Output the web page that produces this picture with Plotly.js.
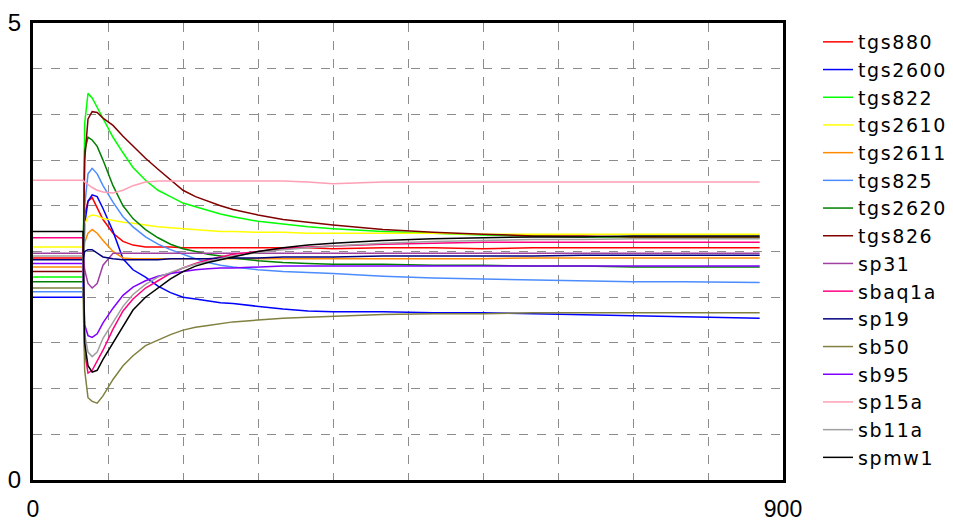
<!DOCTYPE html>
<html>
<head>
<meta charset="utf-8">
<script src="https://cdn.plot.ly/plotly-3.0.1.min.js"></script>
<style>
  html, body { margin: 0; padding: 0; background: #fff; }
  #chart { width: 953px; height: 521px; }
  .legendtext { letter-spacing: 1.6px; }
</style>
</head>
<body>
<div id="chart"></div>
<script>
// Sensor responses (volts) over time (s); gas injected at ~62 s.
const seconds = [0, 60, 62, 66, 71, 77, 84, 96, 108, 120, 135, 150,
                 165, 180, 195, 210, 225, 240, 270, 300, 330, 360,
                 420, 480, 540, 600, 660, 720, 780, 840, 872];

const tgs880  = [2.43, 2.43, 2.90, 3.05, 3.09, 2.98, 2.85, 2.70, 2.61, 2.57, 2.55, 2.55,
                 2.55, 2.54, 2.54, 2.54, 2.54, 2.54, 2.54, 2.54, 2.54, 2.53,
                 2.54, 2.54, 2.53, 2.54, 2.54, 2.54, 2.54, 2.54, 2.54];
const tgs2600 = [2.00, 2.00, 2.80, 3.05, 3.12, 3.10, 2.97, 2.72, 2.42, 2.30, 2.22, 2.12,
                 2.05, 2.00, 1.98, 1.96, 1.94, 1.93, 1.90, 1.87, 1.85, 1.84,
                 1.84, 1.83, 1.83, 1.82, 1.81, 1.80, 1.79, 1.78, 1.77];
const tgs822  = [2.22, 2.22, 3.90, 4.23, 4.18, 4.08, 3.95, 3.75, 3.58, 3.42, 3.28, 3.17,
                 3.10, 3.03, 2.99, 2.95, 2.91, 2.88, 2.83, 2.80, 2.77, 2.75,
                 2.72, 2.70, 2.68, 2.67, 2.66, 2.66, 2.65, 2.65, 2.65];
const tgs2610 = [2.55, 2.55, 2.80, 2.88, 2.90, 2.89, 2.86, 2.84, 2.82, 2.81, 2.79, 2.77,
                 2.76, 2.75, 2.74, 2.73, 2.72, 2.72, 2.71, 2.71, 2.70, 2.70,
                 2.70, 2.70, 2.69, 2.69, 2.69, 2.69, 2.69, 2.69, 2.69];
const tgs2611 = [2.33, 2.33, 2.60, 2.70, 2.74, 2.70, 2.62, 2.50, 2.43, 2.42, 2.42, 2.42,
                 2.42, 2.42, 2.42, 2.42, 2.42, 2.42, 2.42, 2.42, 2.42, 2.42,
                 2.42, 2.42, 2.42, 2.43, 2.43, 2.43, 2.43, 2.43, 2.43];
const tgs825  = [2.06, 2.06, 3.00, 3.35, 3.41, 3.35, 3.22, 3.04, 2.88, 2.77, 2.66, 2.58,
                 2.52, 2.47, 2.42, 2.38, 2.35, 2.33, 2.30, 2.28, 2.27, 2.26,
                 2.23, 2.21, 2.20, 2.19, 2.18, 2.17, 2.17, 2.16, 2.16];
const tgs2620 = [2.17, 2.17, 3.60, 3.75, 3.72, 3.65, 3.50, 3.22, 3.00, 2.86, 2.74, 2.65,
                 2.58, 2.53, 2.50, 2.47, 2.45, 2.43, 2.40, 2.38, 2.37, 2.36,
                 2.36, 2.35, 2.35, 2.34, 2.34, 2.33, 2.33, 2.33, 2.33];
const tgs826  = [2.28, 2.28, 3.50, 3.95, 4.03, 4.02, 3.96, 3.88, 3.76, 3.65, 3.52, 3.40,
                 3.28, 3.17, 3.10, 3.05, 3.00, 2.96, 2.90, 2.85, 2.82, 2.79,
                 2.74, 2.71, 2.69, 2.67, 2.67, 2.66, 2.66, 2.66, 2.66];
const sp31    = [2.48, 2.48, 2.30, 2.15, 2.10, 2.15, 2.35, 2.48, 2.48, 2.48, 2.48, 2.48,
                 2.48, 2.48, 2.48, 2.48, 2.48, 2.48, 2.48, 2.48, 2.48, 2.48,
                 2.48, 2.48, 2.48, 2.48, 2.48, 2.48, 2.48, 2.48, 2.48];
const sbaq1a  = [2.65, 2.65, 1.40, 1.17, 1.20, 1.30, 1.42, 1.65, 1.85, 1.98, 2.10, 2.18,
                 2.26, 2.32, 2.37, 2.41, 2.44, 2.47, 2.50, 2.53, 2.55, 2.56,
                 2.58, 2.59, 2.60, 2.60, 2.60, 2.60, 2.60, 2.60, 2.60];
const sp19    = [2.41, 2.41, 2.50, 2.52, 2.52, 2.48, 2.44, 2.42, 2.41, 2.41, 2.41, 2.41,
                 2.42, 2.42, 2.42, 2.42, 2.43, 2.43, 2.43, 2.44, 2.44, 2.44,
                 2.45, 2.45, 2.45, 2.45, 2.46, 2.46, 2.46, 2.46, 2.46];
const sb50    = [2.10, 2.10, 1.20, 0.90, 0.86, 0.84, 0.92, 1.10, 1.25, 1.36, 1.47, 1.53,
                 1.59, 1.64, 1.67, 1.69, 1.71, 1.73, 1.75, 1.77, 1.78, 1.79,
                 1.81, 1.82, 1.82, 1.83, 1.83, 1.83, 1.83, 1.83, 1.83];
const sb95    = [2.37, 2.37, 1.70, 1.58, 1.56, 1.60, 1.72, 1.88, 2.02, 2.11, 2.18, 2.23,
                 2.26, 2.28, 2.30, 2.31, 2.32, 2.32, 2.33, 2.34, 2.34, 2.34,
                 2.34, 2.34, 2.34, 2.34, 2.34, 2.34, 2.34, 2.34, 2.34];
const sp15a   = [3.28, 3.28, 3.26, 3.23, 3.20, 3.17, 3.15, 3.14, 3.17, 3.22, 3.26, 3.27,
                 3.27, 3.27, 3.27, 3.27, 3.27, 3.27, 3.27, 3.27, 3.26, 3.24,
                 3.26, 3.26, 3.26, 3.26, 3.26, 3.26, 3.26, 3.26, 3.26];
const sb11a   = [2.45, 2.45, 1.60, 1.40, 1.35, 1.40, 1.55, 1.72, 1.90, 2.03, 2.14, 2.22,
                 2.27, 2.32, 2.36, 2.39, 2.42, 2.45, 2.49, 2.52, 2.54, 2.56,
                 2.59, 2.61, 2.62, 2.63, 2.63, 2.64, 2.64, 2.64, 2.64];
const spmw1   = [2.72, 2.72, 1.50, 1.25, 1.18, 1.20, 1.32, 1.50, 1.68, 1.86, 2.00, 2.10,
                 2.20, 2.28, 2.34, 2.38, 2.41, 2.44, 2.50, 2.54, 2.57, 2.59,
                 2.62, 2.64, 2.65, 2.66, 2.66, 2.67, 2.67, 2.67, 2.67];

const sensorNames = ['tgs880', 'tgs2600', 'tgs822', 'tgs2610', 'tgs2611', 'tgs825', 'tgs2620', 'tgs826',
                     'sp31', 'sbaq1a', 'sp19', 'sb50', 'sb95', 'sp15a', 'sb11a', 'spmw1'];
const sensorValues = [tgs880, tgs2600, tgs822, tgs2610, tgs2611, tgs825, tgs2620, tgs826,
                      sp31, sbaq1a, sp19, sb50, sb95, sp15a, sb11a, spmw1];
const sensorColors = ['#ff0000', '#0000ff', '#00ff00', '#ffff00', '#ff8c00', '#4c8cff', '#008000', '#800000',
                      '#a040a0', '#ff0080', '#000080', '#808040', '#8000ff', '#ff9fb5', '#a0a0a0', '#000000'];

const traces = sensorNames.map((name, i) => ({
  type: 'scatter',
  mode: 'lines',
  name: name,
  x: seconds,
  y: sensorValues[i],
  legendgroup: name,
  line: { color: sensorColors[i], width: 1.5 },
  hoverinfo: 'skip'
}));

const gridStyle = { showgrid: true, gridcolor: '#8c8c8c', griddash: 'dash', gridwidth: 1 };

const layout = {
  width: 953,
  height: 521,
  margin: { l: 33, r: 170, t: 23, b: 41, autoexpand: false },
  paper_bgcolor: '#ffffff',
  plot_bgcolor: '#ffffff',
  font: { family: 'Liberation Sans, Arial, sans-serif', color: '#000' },
  showlegend: true,
  legend: {
    x: 1.0467, xanchor: 'left',
    y: 1.0, yanchor: 'top',
    traceorder: 'grouped',
    tracegroupgap: 0,
    font: { family: 'DejaVu Sans, sans-serif', size: 19, color: '#000' },
    bgcolor: 'rgba(0,0,0,0)',
    borderwidth: 0
  },
  xaxis: {
    range: [0, 900],
    tickmode: 'array',
    tickvals: [0, 900],
    ticktext: ['0', '900'],
    ticks: '',
    ticklabelstandoff: 6,
    tickfont: { size: 23 },
    showgrid: false,
    zeroline: false,
    showline: true,
    mirror: true,
    linecolor: '#000',
    linewidth: 3,
    minor: Object.assign({ tick0: 0, dtick: 90, ticks: '' }, gridStyle)
  },
  yaxis: {
    range: [0, 5],
    tickmode: 'array',
    tickvals: [0, 5],
    ticktext: ['0', '5'],
    ticks: '',
    ticklabelstandoff: 4,
    tickfont: { size: 24 },
    showgrid: false,
    zeroline: false,
    showline: true,
    mirror: true,
    linecolor: '#000',
    linewidth: 3,
    minor: Object.assign({ tick0: 0, dtick: 0.5, ticks: '' }, gridStyle)
  }
};

Plotly.newPlot('chart', traces, layout, { staticPlot: true, displayModeBar: false });
</script>
</body>
</html>
